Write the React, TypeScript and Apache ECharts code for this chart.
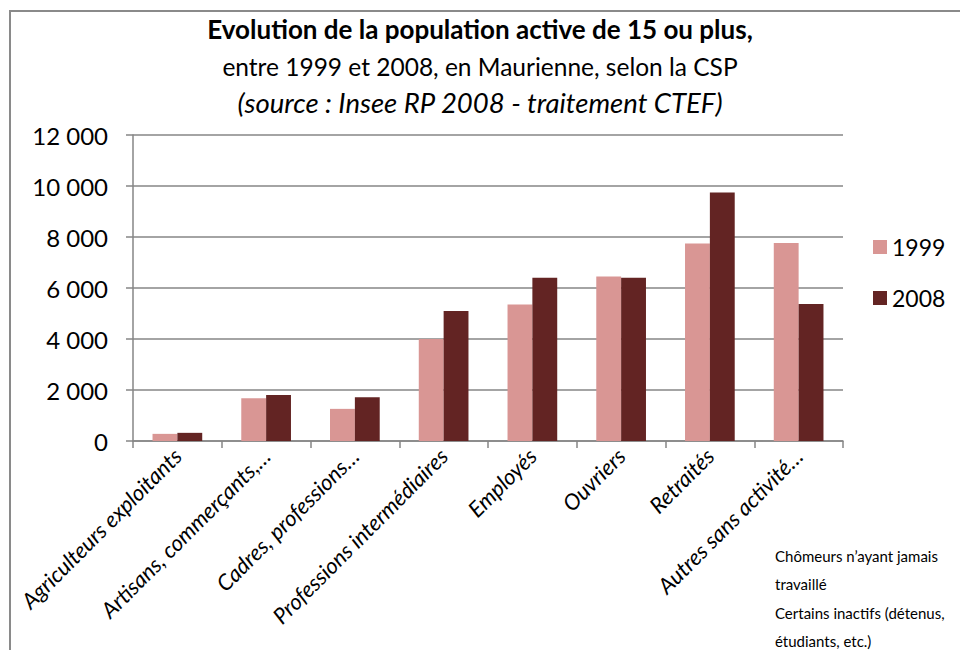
import React, { useEffect, useRef } from "react";
import * as echarts from "echarts";

const categories = [
  "Agriculteurs exploitants",
  "Artisans, commerçants,…",
  "Cadres, professions…",
  "Professions intermédiaires",
  "Employés",
  "Ouvriers",
  "Retraités",
  "Autres sans activité…",
];
const values1999 = [280, 1680, 1260, 4000, 5350, 6450, 7750, 7760];
const values2008 = [320, 1800, 1720, 5100, 6400, 6400, 9750, 5370];
const seriesNames = ["1999", "2008"];
const yTicks = { min: 0, max: 12000, interval: 2000 };
const noteLines = [
  "Chômeurs n’ayant jamais",
  "travaillé",
  "Certains inactifs (détenus,",
  "étudiants, etc.)",
];

const FONT = "Lato, 'Open Sans', sans-serif";
const GRAY = "#868686";

export default function App() {
  const ref = useRef<HTMLDivElement>(null);
  useEffect(() => {
    if (!ref.current) return;
    const chart = echarts.init(ref.current, undefined, { renderer: "svg" });
    chart.setOption({
      animation: false,
      backgroundColor: "#ffffff",
      textStyle: { fontFamily: FONT, color: "#000" },
      title: {
        left: "center",
        top: 5,
        text:
          "{b|Evolution de la population active de 15 ou plus,}\n" +
          "{n|entre 1999 et 2008, en Maurienne, selon la CSP}\n" +
          "{i|(source : Insee RP 2008 - traitement CTEF)}",
        textStyle: {
          fontWeight: "normal",
          rich: {
            b: { fontFamily: FONT, fontSize: 26, fontWeight: "bold", color: "#000", lineHeight: 37 },
            n: { fontFamily: FONT, fontSize: 24.5, fontWeight: "normal", color: "#000", lineHeight: 38 },
            i: { fontFamily: FONT, fontSize: 27.5, fontWeight: "normal", fontStyle: "italic", color: "#000", lineHeight: 34 },
          },
        },
      },
      legend: {
        orient: "vertical",
        left: 868,
        top: 229,
        itemWidth: 14,
        itemHeight: 14,
        itemGap: 25,
        icon: "rect",
        textStyle: { fontFamily: FONT, fontSize: 23, color: "#000", lineHeight: 26 },
        data: seriesNames,
      },
      grid: { left: 133, right: 117, top: 135, bottom: 209 },
      xAxis: {
        type: "category",
        data: categories,
        axisLine: { show: true, lineStyle: { color: GRAY, width: 1.5 } },
        axisTick: { show: true, alignWithLabel: false, length: 7, lineStyle: { color: GRAY, width: 1.5 } },
        axisLabel: {
          rotate: 45,
          interval: 0,
          margin: 11,
          fontFamily: FONT,
          fontSize: 22,
          fontStyle: "italic",
          color: "#000",
        },
      },
      yAxis: {
        type: "value",
        min: yTicks.min,
        max: yTicks.max,
        interval: yTicks.interval,
        axisLine: { show: true, lineStyle: { color: GRAY, width: 1.5 } },
        axisTick: { show: true, length: 7, lineStyle: { color: GRAY, width: 1.5 } },
        splitLine: { show: true, lineStyle: { color: GRAY, width: 1.5 } },
        axisLabel: {
          margin: 25,
          fontFamily: FONT,
          fontSize: 24,
          color: "#000",
          formatter: (v: number) => String(v).replace(/\B(?=(\d{3})+(?!\d))/g, " "),
        },
      },
      series: [
        {
          name: seriesNames[0],
          type: "bar",
          data: values1999,
          itemStyle: { color: "#D99694" },
          barGap: "0%",
          barCategoryGap: "44%",
        },
        {
          name: seriesNames[1],
          type: "bar",
          data: values2008,
          itemStyle: { color: "#632423" },
          barGap: "0%",
          barCategoryGap: "44%",
        },
      ],
      graphic: [
        {
          type: "polyline",
          shape: { points: [[10, 652], [10, 11], [962, 11]] },
          style: { stroke: "#8a8a8a", lineWidth: 2, fill: "none" },
          silent: true,
        },
        ...noteLines.map((t, i) => ({
          type: "text",
          left: 775,
          top: 548 + i * 28.5,
          style: { text: t, fontFamily: FONT, fontSize: 15, fill: "#000" },
        })),
      ],
    });
    return () => chart.dispose();
  }, []);
  return (
    <div
      ref={ref}
      style={{ position: "absolute", left: 0, top: 0, width: 960, height: 650 }}
    />
  );
}
